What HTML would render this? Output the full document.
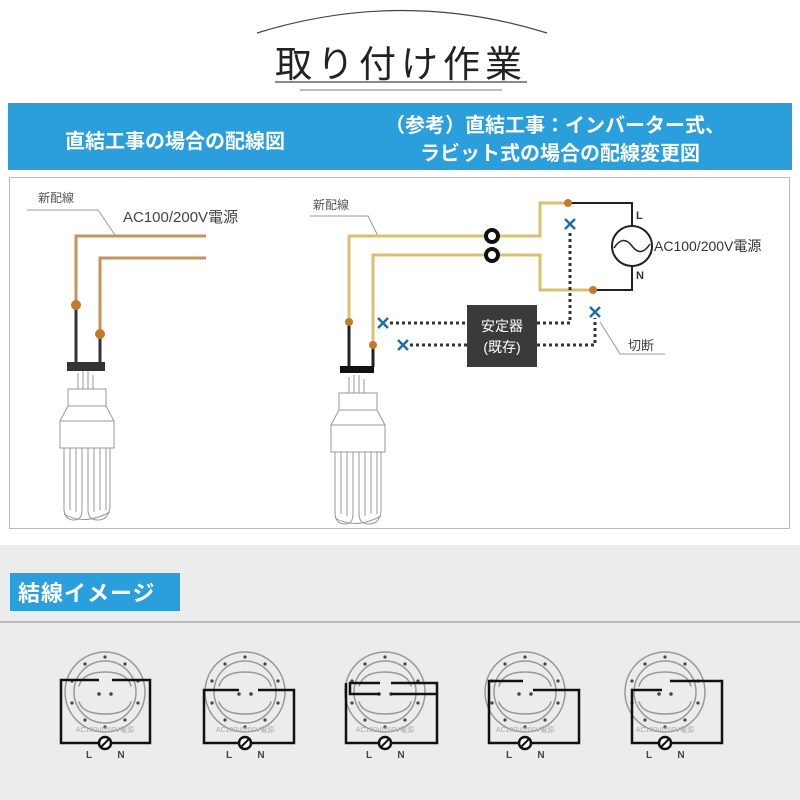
<!DOCTYPE html>
<html><head><meta charset="utf-8"><style>
body{margin:0;width:800px;height:800px;overflow:hidden;background:#fff}
svg{display:block}
text{font-family:"Liberation Sans","Noto Sans CJK JP",sans-serif}
</style></head><body>
<svg width="800" height="800" viewBox="0 0 800 800">
<defs>
<g id="bulb" fill="none" stroke="#999" stroke-width="1">
  <path d="M-8 13v-16M-3 13v-18M2 13v-18M7 13v-14"/>
  <rect x="-18" y="13" width="38" height="17"/>
  <path d="M-18 30 L-26 45 M20 30 L28 45"/>
  <rect x="-26" y="45" width="54" height="27"/>
  <path d="M-22 72v62M-16 72v62M-10 72v64M-4 72v64M2 72v64M8 72v64M14 72v62M20 72v62M24 72v60"/>
  <path d="M-22 132 q0 12 10 12 q8 0 8 -10 M2 134 q0 10 10 10 q10 0 12 -12"/>
  <path d="M-22 138 q20 12 46 -2"/>
</g>
<g id="fix" fill="none" stroke-linecap="round">
  <circle r="40" stroke="#999" stroke-width="1.5"/>
  <circle r="31" stroke="#999" stroke-width="1.5"/>
  <path d="M-26 -6 q4 -14 26 -14 q22 0 26 14 M-26 10 q4 12 26 12 q22 0 26 -12" stroke="#999" stroke-width="1.5"/>
  <g fill="#444" stroke="none">
    <circle cx="0" cy="-35" r="1.6"/><circle cx="20" cy="-28" r="1.6"/><circle cx="33" cy="-11" r="1.6"/><circle cx="33" cy="11" r="1.6"/><circle cx="20" cy="28" r="1.6"/><circle cx="0" cy="35" r="1.6"/><circle cx="-20" cy="28" r="1.6"/><circle cx="-33" cy="11" r="1.6"/><circle cx="-33" cy="-11" r="1.6"/><circle cx="-20" cy="-28" r="1.6"/>
    <circle cx="-6" cy="2" r="1.8"/><circle cx="6" cy="2" r="1.8"/>
  </g>
  <text x="0" y="40" font-size="7" fill="#aaa" text-anchor="middle" stroke="none">AC100V/200V電源</text>
  <text x="-16" y="66" font-size="10" font-weight="bold" fill="#444" text-anchor="middle" stroke="none">L</text>
  <text x="16" y="66" font-size="10" font-weight="bold" fill="#444" text-anchor="middle" stroke="none">N</text>
</g>
</defs>

<!-- title -->
<path d="M257 33 Q402 -12 547 33" fill="none" stroke="#444" stroke-width="1.2"/>
<text x="401" y="77" font-size="37" fill="#222" text-anchor="middle" letter-spacing="5">取り付け作業</text>
<line x1="275" y1="82" x2="527" y2="82" stroke="#444" stroke-width="1.2"/>
<line x1="300" y1="90" x2="502" y2="90" stroke="#bbb" stroke-width="2"/>

<rect x="8" y="103" width="784" height="67" fill="#2b9fdc"/>
<text x="175" y="148" font-size="20" font-weight="bold" fill="#fff" text-anchor="middle">直結工事の場合の配線図</text>
<text x="555" y="132" font-size="20" font-weight="bold" fill="#fff" text-anchor="middle">（参考）直結工事：インバーター式、</text>
<text x="560" y="160" font-size="20" font-weight="bold" fill="#fff" text-anchor="middle">ラビット式の場合の配線変更図</text>

<rect x="9.5" y="177.5" width="780" height="351" fill="#fff" stroke="#bbb"/>

<!-- left diagram -->
<text x="38" y="202" font-size="12" fill="#555">新配線</text>
<path d="M27 210H98L115 235" fill="none" stroke="#999"/>
<text x="123" y="222" font-size="15" fill="#444">AC100/200V電源</text>
<path d="M206 236H76V305" fill="none" stroke="#c8925a" stroke-width="3"/>
<path d="M206 258H100V335" fill="none" stroke="#c8925a" stroke-width="3"/>
<path d="M76 305V363M100 335V363" stroke="#333" stroke-width="3"/>
<circle cx="76" cy="305" r="5" fill="#c47a2c"/><circle cx="100" cy="334" r="5" fill="#c47a2c"/>
<rect x="67" y="362" width="38" height="9" fill="#333"/>
<use href="#bulb" x="86" y="376"/>

<!-- right diagram -->
<text x="313" y="209" font-size="12" fill="#555">新配線</text>
<path d="M310 216H368L378 236" fill="none" stroke="#999"/>
<path d="M349 322V236H540V203H568" fill="none" stroke="#d9c070" stroke-width="3"/>
<path d="M373 345V255H540V290H593" fill="none" stroke="#d9c070" stroke-width="3"/>
<path d="M568 203H632V226M632 266V290H593" fill="none" stroke="#222" stroke-width="2"/>
<path d="M349 322V367M373 345V367" stroke="#222" stroke-width="3"/>
<circle cx="568" cy="203" r="4" fill="#c47a2c"/><circle cx="593" cy="290" r="4" fill="#c47a2c"/>
<circle cx="349" cy="322" r="4" fill="#c47a2c"/><circle cx="373" cy="345" r="4" fill="#c47a2c"/>
<circle cx="492" cy="236" r="6" fill="#fff" stroke="#111" stroke-width="4"/>
<circle cx="492" cy="255" r="6" fill="#fff" stroke="#111" stroke-width="4"/>
<rect x="340" y="366" width="34" height="7" fill="#111"/>
<use href="#bulb" x="357" y="380"/>
<circle cx="632" cy="246" r="20" fill="#fff" stroke="#222" stroke-width="2"/>
<path d="M614 248q9 -14 18 -2q9 12 18 -2" fill="none" stroke="#222" stroke-width="1.5"/>
<text x="636" y="219" font-size="11" font-weight="bold" fill="#333">L</text>
<text x="636" y="279" font-size="11" font-weight="bold" fill="#333">N</text>
<text x="654" y="251" font-size="14" fill="#333">AC100/200V電源</text>
<g stroke="#333" stroke-width="3" stroke-dasharray="3 3" fill="none">
<path d="M390 323H468M537 323H570V232"/>
<path d="M410 345H468M537 345H595V318"/>
</g>
<rect x="467" y="305" width="70" height="62" fill="#3a3a3a"/>
<text x="502" y="331" font-size="14" fill="#fff" text-anchor="middle">安定器</text>
<text x="502" y="352" font-size="14" fill="#fff" text-anchor="middle">(既存)</text>
<g stroke="#1e6ea6" stroke-width="2.5">
<path d="M565 219l10 10M575 219l-10 10"/>
<path d="M590 307l10 10M600 307l-10 10"/>
<path d="M378 318l10 10M388 318l-10 10"/>
<path d="M398 340l10 10M408 340l-10 10"/>
</g>
<path d="M600 322L620 354H665" fill="none" stroke="#999"/>
<text x="628" y="350" font-size="13" fill="#444">切断</text>

<!-- bottom -->
<rect x="0" y="545" width="800" height="255" fill="#ececec"/>
<rect x="10" y="573" width="170" height="38" fill="#2b9fdc"/>
<text x="18" y="601" font-size="22" font-weight="bold" fill="#fff" letter-spacing="1">結線イメージ</text>
<line x1="0" y1="622" x2="800" y2="622" stroke="#888" stroke-width="1"/>

<use href="#fix" x="105" y="692"/>
<use href="#fix" x="245" y="692"/>
<use href="#fix" x="385" y="692"/>
<use href="#fix" x="525" y="692"/>
<use href="#fix" x="665" y="692"/>
<g fill="none" stroke="#111" stroke-width="2.5">
<path d="M99 680H61V743H150V680H112"/>
<path d="M239 690H204V743H294V690H258"/>
<path d="M380 683H350V694H380M391 683H437V743H346V683" />
<path d="M391 694H437"/>
<path d="M523 681H489V743H579V690H533"/>
<path d="M670 681H722V743H632V690H662"/>
</g>
<g fill="#fff" stroke="#111" stroke-width="2.5">
<circle cx="105" cy="743" r="6"/><circle cx="245" cy="743" r="6"/><circle cx="385" cy="743" r="6"/><circle cx="525" cy="743" r="6"/><circle cx="665" cy="743" r="6"/>
</g>
<g stroke="#111" stroke-width="2"><path d="M101 747l8 -8M241 747l8 -8M381 747l8 -8M521 747l8 -8M661 747l8 -8"/></g>
</svg>
</body></html>
